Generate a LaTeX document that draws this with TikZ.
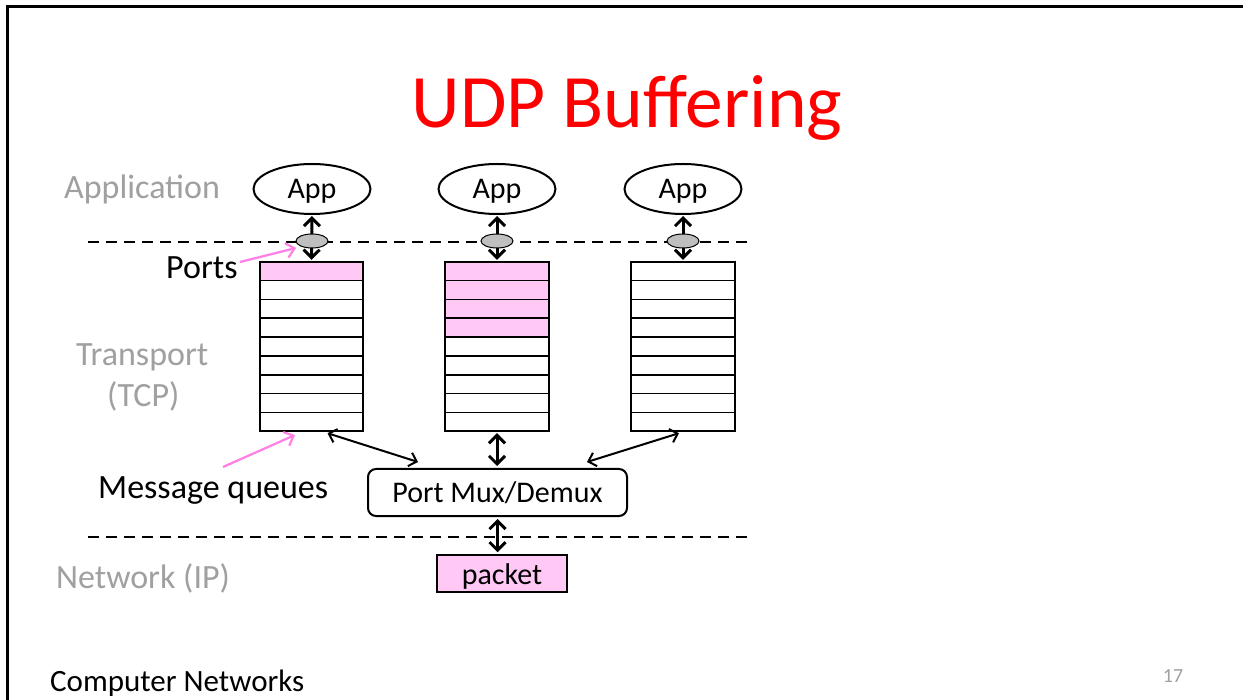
\documentclass[tikz,border=0pt]{standalone}
\usepackage{fontspec}
\setmainfont{Carlito}
\usetikzlibrary{shapes.geometric,arrows.meta,calc}
\definecolor{lblgray}{HTML}{A0A0A0}
\definecolor{qpink}{HTML}{FFC8F5}
\definecolor{apink}{HTML}{FF80E6}
\definecolor{portgray}{HTML}{BFBFBF}
\newcommand{\basedrop}[2]{\raisebox{-#1}[0pt][0pt]{#2}}
\tikzset{
  lbl/.style={font=\fontsize{34}{40}\selectfont, text=lblgray, inner sep=0pt, anchor=base west},
  blk/.style={font=\fontsize{34}{40}\selectfont, text=black, inner sep=0pt, anchor=base west},
  appnode/.style={ellipse, draw, line width=2pt, minimum width=117pt, minimum height=50pt, inner sep=0pt, font=\fontsize{30}{36}\selectfont},
  portnode/.style={ellipse, draw, line width=1pt, fill=portgray, minimum width=32pt, minimum height=14pt, inner sep=0pt},
  queue/.style={rectangle, minimum width=103pt, minimum height=169pt, inner sep=0pt},
  rowline/.style={line width=1.7pt},
  thickarr/.style={line width=3pt, {Straight Barb[length=8pt,width=16pt]}-{Straight Barb[length=8pt,width=16pt]}},
  thinarr/.style={line width=2pt, {Straight Barb[length=7pt,width=14pt]}-{Straight Barb[length=7pt,width=14pt]}},
  pinkarr/.style={line width=2.2pt, draw=apink, -{Straight Barb[length=8pt,width=15pt]}},
  layerline/.style={line width=2pt, dash pattern=on 11pt off 7pt},
  boxtext/.style={font=\fontsize{30}{36}\selectfont, inner sep=0pt},
}
\begin{document}
\begin{tikzpicture}[x=1pt,y=-1pt]
\useasboundingbox (0,0) rectangle (1243,700);
\fill[white] (0,0) rectangle (1243,700);
\draw[line width=3pt] (1244,7) -- (7,7) -- (7,701);

% title
\node[font=\fontsize{75.5}{90}\selectfont, text=red, inner sep=0pt, anchor=base] (title) at (627,128) {UDP Buffering};

% layer labels
\node[lbl] (lapp) at (64,199) {Application};
\node[lbl] (ltr) at (76,366) {Transport};
\node[lbl] (ltcp) at (107,407) {(TCP)};
\node[lbl] (lnet) at (56,588) {Network (IP)};
\node[blk] (lports) at (166,279) {Ports};
\node[blk] (lmq) at (98,499) {Message queues};

% layer lines
\draw[layerline] (88,242) -- (750,242);
\draw[layerline] (88,537) -- (750,537);

% apps
\node[appnode] (a1) at (312,189) {\basedrop{10pt}{App}};
\node[appnode] (a2) at (497,189) {\basedrop{10pt}{App}};
\node[appnode] (a3) at (683,189) {\basedrop{10pt}{App}};

% queues
\node[queue] (q1) at (311.5,346.5) {};
\node[queue] (q2) at (497,346.5) {};
\node[queue] (q3) at (683,346.5) {};
\fill[qpink] (q1.north west) rectangle ($(q1.north east)!1/9!(q1.south east)$);
\fill[qpink] (q2.north west) rectangle ($(q2.north east)!4/9!(q2.south east)$);
\foreach \q in {q1,q2,q3}{
  \foreach \i in {1,...,8}{
    \draw[rowline] ($(\q.north west)!\i/9!(\q.south west)$) -- ($(\q.north east)!\i/9!(\q.south east)$);
  }
  \draw[rowline] (\q.north west) rectangle (\q.south east);
}

% app <-> queue arrows with ports
\draw[thickarr, shorten <=1pt, shorten >=2pt] (a1.south) -- (q1.north);
\draw[thickarr, shorten <=1pt, shorten >=2pt] (a2.south) -- (q2.north);
\draw[thickarr, shorten <=1pt, shorten >=2pt] (a3.south) -- (q3.north);
\node[portnode] (p1) at (312,241) {};
\node[portnode] (p2) at (497,241) {};
\node[portnode] (p3) at (683,241) {};

% mux
\node[draw, line width=2pt, rounded corners=8pt, minimum width=259pt, minimum height=47pt, boxtext] (mux) at (497.5,492.5) {\basedrop{10.5pt}{Port Mux/Demux}};

% packet
\node[draw, line width=1.5pt, fill=qpink, minimum width=130pt, minimum height=37pt, boxtext] (pkt) at (502,573.5) {\basedrop{11pt}{packet}};

% queue <-> mux arrows
\draw[thinarr] ([xshift=16pt,yshift=-2pt]q1.south) -- ([xshift=-79.5pt,yshift=6pt]mux.north);
\draw[thickarr, shorten <=2pt, shorten >=2pt] (q2.south) -- (q2.south |- mux.north);
\draw[thinarr] ([xshift=-4pt,yshift=-2pt]q3.south) -- ([xshift=89.5pt,yshift=6pt]mux.north);

% mux <-> packet
\draw[thickarr, shorten <=2pt, shorten >=2pt] (mux.south) -- (mux.south |- pkt.north);

% pink pointer arrows
\coordinate (ps) at (240,262);
\coordinate (pe) at (296,248);
\draw[pinkarr] (ps) -- (pe);
\coordinate (ms) at (223,467);
\coordinate (me) at (295,435);
\draw[pinkarr] (ms) -- (me);

% footer
\node[font=\fontsize{31}{36}\selectfont, inner sep=0pt, anchor=base west] (foot) at (50,691) {Computer Networks};
\node[font=\fontsize{20}{24}\selectfont, text=lblgray, inner sep=0pt, anchor=base] (pg) at (1173,682) {17};
\end{tikzpicture}
\end{document}
